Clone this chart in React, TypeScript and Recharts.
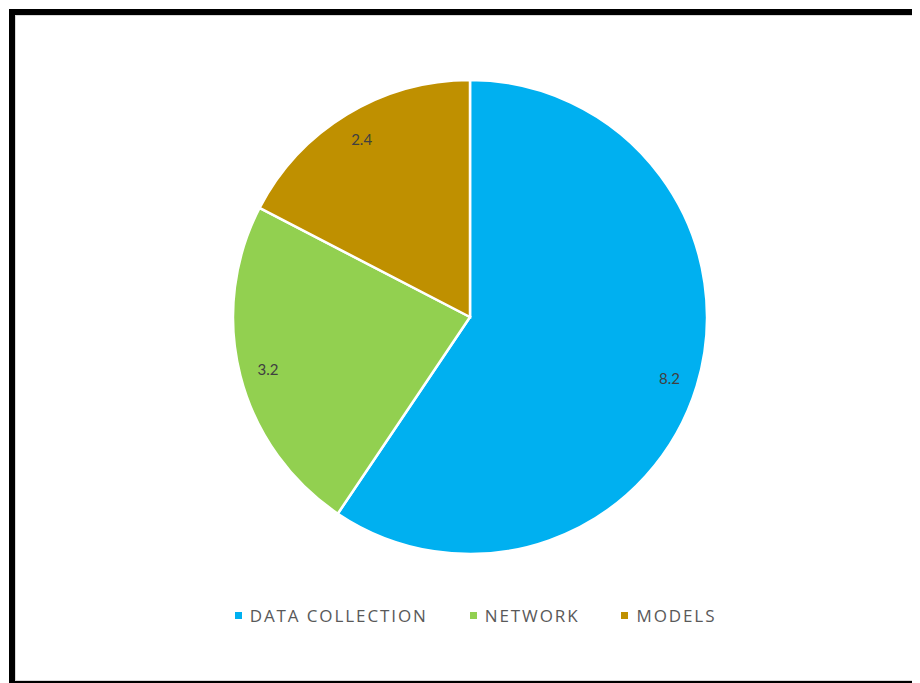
import { Cell, Legend, Pie, PieChart } from 'recharts';

const categories = ['DATA COLLECTION', 'NETWORK', 'MODELS'];
const values = [8.2, 3.2, 2.4];
const colors = ['#00B0F0', '#92D050', '#BF9000'];

const data = categories.map((name, i) => ({ name, value: values[i] }));

const RAD = Math.PI / 180;

// labels sit close to the rim, like Excel's "best fit"
function renderLabel(props: any) {
  const { cx, cy, midAngle, outerRadius, value } = props;
  const r = outerRadius * 0.88;
  const x = cx + r * Math.cos(-midAngle * RAD);
  const y = cy + r * Math.sin(-midAngle * RAD);
  return (
    <text x={x} y={y} fill="#404040" fontSize={15} textAnchor="middle" dominantBaseline="central">
      {value}
    </text>
  );
}

// keep the series order (recharts would sort the payload)
function LegendContent() {
  return (
    <div style={{ display: 'flex', justifyContent: 'center', gap: 42, paddingLeft: 16 }}>
      {categories.map((name, i) => (
        <div key={name} style={{ display: 'flex', alignItems: 'center' }}>
          <span style={{ width: 7, height: 7, background: colors[i], marginRight: 8, display: 'inline-block' }} />
          <span style={{ color: '#595959', fontSize: 17, letterSpacing: 1.9, fontFamily: '"Open Sans", sans-serif' }}>
            {name}
          </span>
        </div>
      ))}
    </div>
  );
}

export default function App() {
  return (
    <div
      style={{
        marginLeft: 1,
        marginTop: 1,
        width: 905,
        height: 666,
        border: '6px solid #000',
        boxShadow: 'inset 0 0 0 1px #d9d9d9',
        background: '#fff',
        fontFamily: 'Lato, "Liberation Sans", sans-serif',
      }}
    >
      <PieChart width={905} height={666}>
        <Pie
          data={data}
          dataKey="value"
          nameKey="name"
          cx={450}
          cy={297}
          outerRadius={237}
          startAngle={90}
          endAngle={-270}
          stroke="#fff"
          strokeWidth={2.5}
          label={renderLabel}
          labelLine={false}
          isAnimationActive={false}
        >
          {data.map((d, i) => (
            <Cell key={d.name} fill={colors[i]} />
          ))}
        </Pie>
        <Legend
          content={<LegendContent />}
          wrapperStyle={{ position: 'absolute', top: 589, left: 0, width: 905 }}
        />
      </PieChart>
    </div>
  );
}
